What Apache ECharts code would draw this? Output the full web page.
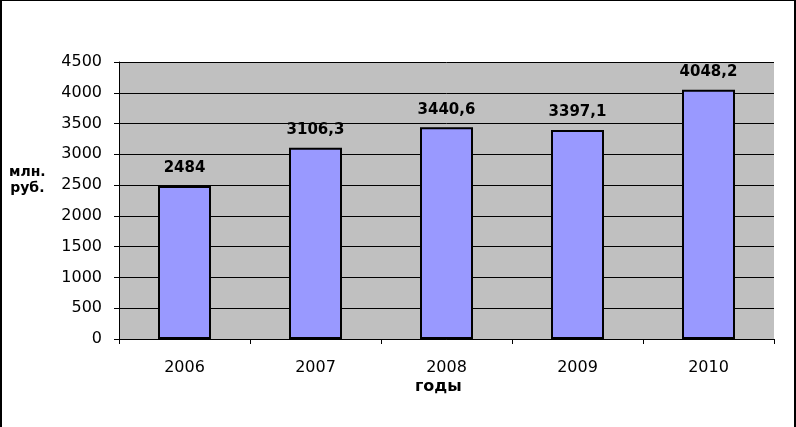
<!DOCTYPE html>
<html>
<head>
<meta charset="utf-8">
<script src="https://cdn.jsdelivr.net/npm/echarts@6/dist/echarts.min.js"></script>
<style>
  html, body { margin: 0; padding: 0; background: #fff; }
  #main {
    width: 796px; height: 427px; box-sizing: border-box;
    border-top: 1px solid #000; border-left: 2px solid #000; border-right: 2px solid #000;
  }
</style>
</head>
<body>
<div id="main"></div>
<script>
const years = ['2006', '2007', '2008', '2009', '2010'];
const values = [2484, 3106.3, 3440.6, 3397.1, 4048.2];
const yTicks = [0, 500, 1000, 1500, 2000, 2500, 3000, 3500, 4000, 4500];

const chart = echarts.init(document.getElementById('main'));
const font = '"DejaVu Sans", sans-serif';

chart.setOption({
  animation: false,
  grid: { left: 117, right: 20, top: 61, bottom: 88, show: true, backgroundColor: '#C0C0C0', borderWidth: 0 },
  xAxis: {
    type: 'category',
    data: years,
    axisLine: { lineStyle: { color: '#000', width: 1 } },
    axisTick: { show: true, length: 5, lineStyle: { color: '#000' } },
    axisLabel: { color: '#000', fontSize: 16, fontFamily: font, margin: 21 }
  },
  yAxis: {
    type: 'value',
    min: yTicks[0],
    max: yTicks[yTicks.length - 1],
    interval: 500,
    axisLine: { show: true, lineStyle: { color: '#000', width: 1 } },
    axisTick: { show: true, length: 5, lineStyle: { color: '#000' } },
    splitLine: { lineStyle: { color: '#000', width: 1 } },
    axisLabel: { color: '#000', fontSize: 16, fontFamily: font, margin: 17, formatter: v => String(v) }
  },
  series: [{
    type: 'bar',
    data: values,
    barWidth: 53,
    itemStyle: { color: '#9999FF', borderColor: '#000', borderWidth: 2 },
    label: {
      show: true,
      position: 'top',
      distance: 10,
      color: '#000',
      fontSize: 15,
      fontWeight: 'bold',
      fontFamily: font,
      formatter: p => String(p.value).replace('.', ',')
    }
  }],
  graphic: [
    {
      type: 'text', left: 7, top: 163,
      style: { text: 'млн.\nруб.', fill: '#000', font: 'bold 14px ' + font, lineHeight: 16, textAlign: 'center' }
    },
    {
      type: 'text', left: 413, top: 378,
      style: { text: 'годы', fill: '#000', font: 'bold 16px ' + font }
    }
  ]
});
</script>
</body>
</html>
